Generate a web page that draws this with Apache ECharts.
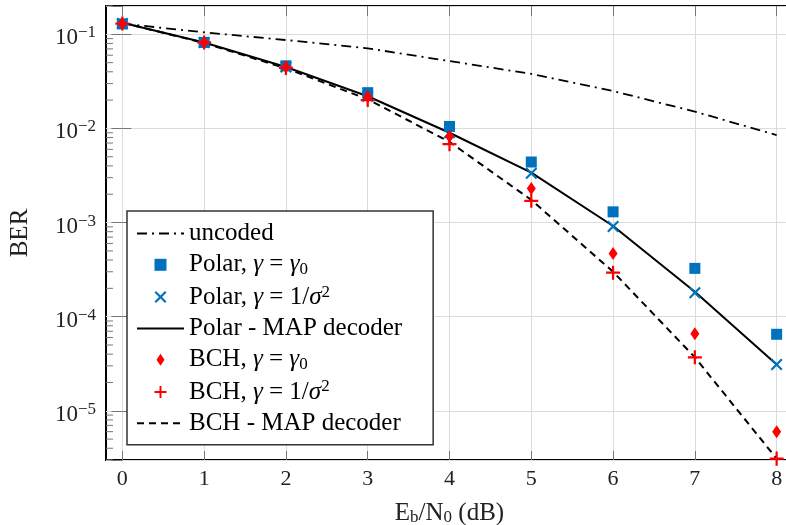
<!DOCTYPE html>
<html>
<head>
<meta charset="utf-8">
<script src="https://cdn.jsdelivr.net/npm/echarts@6/dist/echarts.min.js"></script>
<style>html,body{margin:0;padding:0;background:#fff}#c{width:786px;height:525px}</style>
</head>
<body>
<div id="c"></div>
<script>
// ---- data ----
const ebn0 = [0, 1, 2, 3, 4, 5, 6, 7, 8];
const uncoded = [0.13, 0.105, 0.087, 0.071, 0.052, 0.038, 0.025, 0.0151, 0.0085];
const polarGamma0 = [0.129, 0.082, 0.0463, 0.024, 0.0105, 0.0044, 0.0013, 3.26e-4, 6.5e-5];
const polarInvSigma = [0.13, 0.082, 0.045, 0.022, 0.009, 0.00334, 9.1e-4, 1.8e-4, 3.1e-5];
const polarMap = [0.133, 0.082, 0.045, 0.022, 0.009, 0.0034, 9.2e-4, 1.84e-4, 3.1e-5];
const bchGamma0 = [0.13, 0.082, 0.045, 0.0218, 0.0082, 0.0023, 4.7e-4, 6.6e-5, 6.0e-6];
const bchInvSigma = [0.13, 0.082, 0.044, 0.020, 0.0068, 0.0017, 2.93e-4, 3.7e-5, 3.1e-6];
const bchMap = [0.133, 0.081, 0.0435, 0.0204, 0.0072, 0.00174, 3.0e-4, 3.7e-5, 3.1e-6];
const xTicks = [0, 1, 2, 3, 4, 5, 6, 7, 8];
const seriesNames = ['uncoded', 'Polar, γ = γ0', 'Polar, γ = 1/σ2', 'Polar - MAP decoder',
  'BCH, γ = γ0', 'BCH, γ = 1/σ2', 'BCH - MAP decoder'];
const legendLabels = {
  'uncoded': 'uncoded',
  'Polar, γ = γ0': 'Polar, {i|γ} = {i|γ}{sub|0}',
  'Polar, γ = 1/σ2': 'Polar, {i|γ} = 1/{i|σ}{sup|2}',
  'Polar - MAP decoder': 'Polar - MAP decoder',
  'BCH, γ = γ0': 'BCH, {i|γ} = {i|γ}{sub|0}',
  'BCH, γ = 1/σ2': 'BCH, {i|γ} = 1/{i|σ}{sup|2}',
  'BCH - MAP decoder': 'BCH - MAP decoder'
};
// minor tick positions of the log axis (2..9 x 10^n)
const minorTicks = [];
for (let e = -6; e <= -1; e++) for (let m = 2; m <= 9; m++) {
  const v = m * Math.pow(10, e);
  if (v >= 3e-6 && v <= 0.2) minorTicks.push(v);
}

const pair = arr => ebn0.map((x, i) => [x, arr[i]]);
const FONT = 'Liberation Serif';
const BLUE = '#0072BD', RED = '#ff0000';
const SQSYM = 'path://M0,0H10V10H0Z';
const XSYM = 'path://M0,1.27L1.27,0L5,3.73L8.73,0L10,1.27L6.27,5L10,8.73L8.73,10L5,6.27L1.27,10L0,8.73L3.73,5Z';
const PSYM = 'path://M4.2,0H5.8V4.2H10V5.8H5.8V10H4.2V5.8H0V4.2H4.2Z';
const DSYM = 'path://M4,0L8,6L4,12L0,6Z';

const LF = 25;
const richStyles = {
  i: {fontFamily: FONT, fontSize: LF, fontStyle: 'italic', color: '#000'},
  sub: {fontFamily: FONT, fontSize: 17, lineHeight: 17, padding: [10, 0, 0, 0], color: '#000'},
  sup: {fontFamily: FONT, fontSize: 17, lineHeight: 17, padding: [0, 0, 10, 0], color: '#000'}
};
const hideSym = {opacity: 0};

const chart = echarts.init(document.getElementById('c'), null, {renderer: 'canvas'});
chart.setOption({
  animation: false,
  backgroundColor: '#fff',
  grid: {left: 106, top: 6, width: 687, height: 454, show: true, outerBoundsMode: 'none',
    containLabel: false,
    borderColor: '#000', borderWidth: 2, backgroundColor: 'transparent'},
  xAxis: [{
    type: 'value', min: -0.2, max: 8.2, position: 'bottom',
    axisLine: {show: false},
    axisTick: {show: true, inside: true, length: 9, lineStyle: {color: '#777'}, customValues: xTicks},
    axisLabel: {fontFamily: FONT, fontSize: 22, color: '#222', margin: 8, customValues: xTicks},
    splitLine: {show: true, lineStyle: {color: '#dcdcdc', width: 1}},
    name: 'E{sub|b}/N{sub|0} (dB)', nameLocation: 'middle', nameGap: 41,
    nameTextStyle: {fontFamily: FONT, fontSize: 25, color: '#222',
      rich: {sub: {fontFamily: FONT, fontSize: 17, lineHeight: 17, padding: [9, 0, 0, 0], color: '#222'}}}
  }, {
    type: 'value', min: -0.2, max: 8.2, position: 'top',
    axisLine: {show: false},
    axisTick: {show: true, inside: true, length: 10, lineStyle: {color: '#777'}, customValues: xTicks},
    axisLabel: {show: false}, splitLine: {show: false}
  }],
  yAxis: [{
    type: 'log', logBase: 10, min: 3e-6, max: 0.2, position: 'left',
    axisLine: {show: false},
    axisTick: {show: true, inside: true, length: 9, lineStyle: {color: '#777'}},
    axisLabel: {fontFamily: FONT, fontSize: 23, color: '#222', margin: 10,
      showMinLabel: false, showMaxLabel: false, padding: [8, 0, 0, 0],
      formatter: v => {
        const e = Math.log10(v);
        if (Math.abs(e - Math.round(e)) > 1e-6) return '';
        return '10{sup|−' + Math.abs(Math.round(e)) + '}';
      },
      rich: {sup: {fontFamily: FONT, fontSize: 17, lineHeight: 17, padding: [0, 0, 11, 0], color: '#222'}}},
    splitLine: {show: true, lineStyle: {color: '#dcdcdc', width: 1}},
    name: 'BER', nameLocation: 'middle', nameGap: 73, nameRotate: 90,
    nameTextStyle: {fontFamily: FONT, fontSize: 25, color: '#222'}
  }, {
    type: 'log', logBase: 10, min: 3e-6, max: 0.2, position: 'right',
    axisLine: {show: false},
    axisTick: {show: true, inside: true, length: 11, lineStyle: {color: '#777'}},
    axisLabel: {show: false}, splitLine: {show: false}
  }],
  legend: {
    orient: 'vertical', left: 127, top: 211,
    itemWidth: 47, itemHeight: 12, itemGap: 5.3,
    padding: [10, 31, 9, 9],
    backgroundColor: '#fff', borderColor: '#333', borderWidth: 1.5, borderRadius: 0,
    symbolKeepAspect: true,
    data: [
      {name: seriesNames[0], itemStyle: hideSym},
      {name: seriesNames[1], icon: SQSYM},
      {name: seriesNames[2], icon: XSYM},
      {name: seriesNames[3], itemStyle: hideSym},
      {name: seriesNames[4], icon: DSYM},
      {name: seriesNames[5], icon: PSYM},
      {name: seriesNames[6], itemStyle: hideSym}
    ],
    formatter: n => legendLabels[n],
    textStyle: {fontFamily: FONT, fontSize: LF, color: '#000', rich: richStyles}
  },
  series: [
    {name: seriesNames[0], type: 'line', data: pair(uncoded), symbol: 'none', z: 2,
      lineStyle: {color: '#000', width: 1.8, type: [10, 5, 2, 5]}, itemStyle: {color: '#000'}},
    {name: seriesNames[3], type: 'line', data: pair(polarMap), symbol: 'none', z: 2,
      lineStyle: {color: '#000', width: 2, type: 'solid'}, itemStyle: {color: '#000'}},
    {name: seriesNames[6], type: 'line', data: pair(bchMap), symbol: 'none', z: 2,
      lineStyle: {color: '#000', width: 2, type: [7, 5]}, itemStyle: {color: '#000'}},
    {name: seriesNames[1], type: 'scatter', data: pair(polarGamma0), symbol: SQSYM, symbolSize: 11, z: 3,
      itemStyle: {color: BLUE, opacity: 1}},
    {name: seriesNames[2], type: 'scatter', data: pair(polarInvSigma), symbol: XSYM, symbolSize: 12, z: 4,
      itemStyle: {color: BLUE, opacity: 1}},
    {name: seriesNames[4], type: 'scatter', data: pair(bchGamma0), symbol: DSYM, symbolSize: [9, 13], z: 5,
      itemStyle: {color: RED, opacity: 1}},
    {name: seriesNames[5], type: 'scatter', data: pair(bchInvSigma), symbol: PSYM, symbolSize: 14, z: 6,
      itemStyle: {color: RED, opacity: 1}},
    {type: 'custom', name: 'minorTicks', z: 1, silent: true,
      data: minorTicks.map(v => [0, v]),
      renderItem: (params, api) => {
        const p = api.coord([-0.2, api.value(1)]);
        return {type: 'line', shape: {x1: p[0], y1: p[1], x2: p[0] + 7, y2: p[1]},
          style: {stroke: '#777', lineWidth: 1}};
      }}
  ]
});
</script>
</body>
</html>
